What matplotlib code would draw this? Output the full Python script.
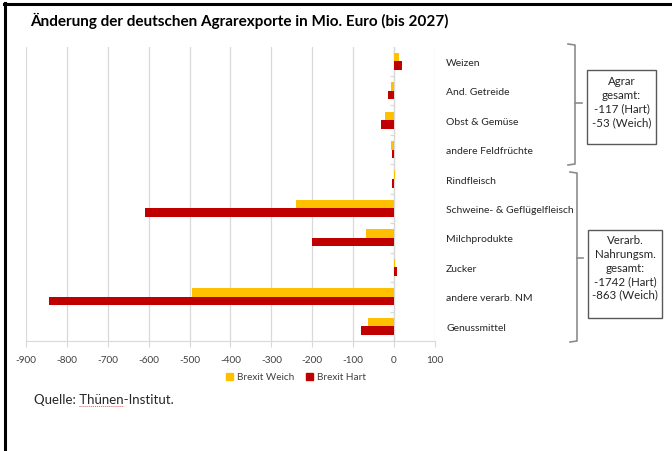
import matplotlib
matplotlib.use('Agg')
import numpy as np
import matplotlib.pyplot as plt
from matplotlib.patches import Patch, Rectangle
from matplotlib.lines import Line2D

# Daten (Mio. Euro, bis 2027)
kategorien = ['Weizen', 'And. Getreide', 'Obst & Gemüse', 'andere Feldfrüchte',
              'Rindfleisch', 'Schweine- & Geflügelfleisch', 'Milchprodukte',
              'Zucker', 'andere verarb. NM', 'Genussmittel']
brexit_weich = [13, -7, -22, -7, 1, -240, -68, 2, -494, -64]
brexit_hart = [20, -16, -31, -5, -5, -610, -201, 7, -843, -81]
x_ticks = list(range(-900, 101, 100))
box_agrar = ['Agrar', 'gesamt:', '-117 (Hart)', '-53 (Weich)']
box_verarb = ['Verarb.', 'Nahrungsm.', 'gesamt:', '-1742 (Hart)', '-863 (Weich)']

GELB = '#FFC000'
ROT = '#C00000'
GRID = '#d9d9d9'
W, H = 672, 452

plt.rcParams['font.family'] = ['Lato', 'DejaVu Sans']

fig = plt.figure(figsize=(W / 100, H / 100), dpi=100, facecolor='white')

def fx(px):
    return px / W

def fy(py):
    return 1 - py / H

ax = fig.add_axes([fx(26), fy(342), fx(435 - 26), (342 - 47.5) / H])

y = np.arange(len(kategorien))
h = 0.29
ax.barh(y - h / 2, brexit_weich, height=h, color=GELB, label='Brexit Weich', zorder=3)
ax.barh(y + h / 2, brexit_hart, height=h, color=ROT, label='Brexit Hart', zorder=3)

ax.set_xlim(-900, 100)
ax.set_ylim(len(kategorien) - 0.5, -0.5)
ax.set_xticks(x_ticks)
ax.set_xticklabels([str(t) for t in x_ticks], fontsize=7.2, color='#404040')
ax.tick_params(axis='x', length=4, color=GRID, pad=6)
ax.grid(axis='x', color=GRID, lw=0.9, zorder=0)

ax.yaxis.tick_right()
ax.set_yticks(y)
ax.set_yticklabels(kategorien, fontsize=7.5, color='#262626')
ax.tick_params(axis='y', length=0, pad=8)

for s in ['top', 'left', 'right']:
    ax.spines[s].set_visible(False)
ax.spines['bottom'].set_color(GRID)

# Kategorieachse bei 0
ax.axvline(0, color=GRID, lw=0.9, zorder=2)
ax.hlines(np.arange(len(kategorien) + 1) - 0.5, -9, 0, color=GRID, lw=0.9, zorder=2)

# Titel
fig.text(fx(30.5), fy(21), 'Änderung der deutschen Agrarexporte in Mio. Euro (bis 2027)',
         fontsize=11.0, fontweight='bold', va='center', ha='left', color='black')

# Legende
handles = [Patch(color=GELB, label='Brexit Weich'), Patch(color=ROT, label='Brexit Hart')]
fig.legend(handles=handles, loc='center', bbox_to_anchor=(fx(296), fy(378)), ncol=2,
           frameon=False, fontsize=7.2, handlelength=0.7, handleheight=0.7,
           handletextpad=0.4, columnspacing=1.2, labelcolor='#404040')

# Quelle
fig.text(fx(34), fy(400), 'Quelle: Thünen-Institut.', fontsize=9.5, va='center', ha='left',
         color='#262626')
fig.add_artist(Line2D([fx(79), fx(123)], [fy(407), fy(407)], color='#e06060', lw=0.7,
                      linestyle=(0, (1, 1))))

# Klammern
BR = '#8c8c8c'
def klammer(x0, x1, y0, y1, ym, tip):
    fig.add_artist(Line2D([fx(x0), fx(x1), fx(x1), fx(x0)],
                          [fy(y0), fy(y0 + 1), fy(y1 - 1), fy(y1)], color=BR, lw=1.2))
    fig.add_artist(Line2D([fx(x1), fx(x1 + tip)], [fy(ym), fy(ym)], color=BR, lw=1.2))

klammer(568, 575, 45, 166, 104, 7)
klammer(570, 577, 173, 343, 259, 6)

def box(x0, x1, y0, y1, zeilen, yerste):
    fig.add_artist(Rectangle((fx(x0), fy(y1)), fx(x1 - x0), (y1 - y0) / H,
                             fill=False, edgecolor='#595959', lw=1.0))
    for i, z in enumerate(zeilen):
        fig.text(fx((x0 + x1) / 2), fy(yerste + i * 13.5), z, ha='center', va='center',
                 fontsize=8.3, color='#262626')

box(587, 656, 71, 145, box_agrar, 82)
box(588, 662, 231, 319, box_verarb, 241)

# Rahmen
fig.add_artist(Line2D([fx(5), fx(5)], [fy(4), fy(452)], color='black', lw=2.2))
fig.add_artist(Line2D([fx(4), fx(672)], [fy(4.5), fy(4.5)], color='black', lw=2.2))

fig.savefig('out.png', dpi=100, facecolor='white')
